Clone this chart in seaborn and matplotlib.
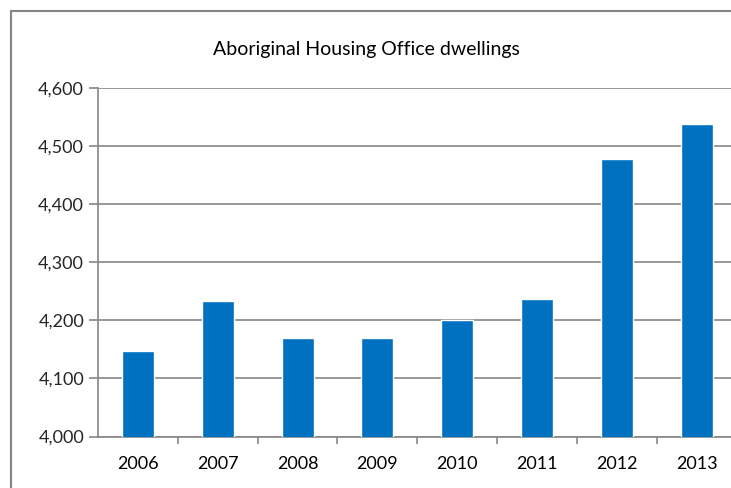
import matplotlib
matplotlib.use("Agg")
import matplotlib.pyplot as plt
from matplotlib.lines import Line2D
from matplotlib.ticker import FuncFormatter, FixedLocator
import seaborn as sns
import pandas as pd

# Aboriginal Housing Office dwellings by year
years = ["2006", "2007", "2008", "2009", "2010", "2011", "2012", "2013"]
dwellings = [4147, 4233, 4169, 4169, 4201, 4237, 4477, 4538]
y_ticks = [4000, 4100, 4200, 4300, 4400, 4500, 4600]

df = pd.DataFrame({"year": years, "dwellings": dwellings})

sns.set_theme(style="white")
plt.rcParams["font.family"] = ["Lato", "DejaVu Sans"]

grey = "#868686"
fig = plt.figure(figsize=(7.31, 4.88), dpi=100)
ax = fig.add_axes([98 / 731, 51.5 / 488, 1 - 98 / 731, 348.5 / 488])

sns.barplot(data=df, x="year", y="dwellings", color="#0070C0", width=0.4,
            saturation=1, ax=ax, zorder=3)

ax.set_ylim(y_ticks[0], y_ticks[-1])
ax.set_xlim(-0.5, 7.43)
ax.yaxis.set_major_locator(FixedLocator(y_ticks))
ax.yaxis.set_major_formatter(FuncFormatter(lambda v, p: f"{int(v):,}"))
ax.grid(axis="y", color=grey, linewidth=1.2, zorder=0)
ax.set_axisbelow(True)

# category boundary ticks on the x axis
ax.xaxis.set_minor_locator(FixedLocator([i + 0.5 for i in range(len(years))]))
ax.tick_params(axis="x", which="major", length=0, pad=14, labelsize=13,
               colors="black")
ax.tick_params(axis="x", which="minor", length=5, width=1.2, color=grey,
               direction="out", bottom=True)
ax.tick_params(axis="y", which="major", length=6.5, width=1.2, color=grey,
               direction="out", left=True, pad=3.5, labelsize=13)

for side in ["top", "right"]:
    ax.spines[side].set_visible(False)
for side in ["left", "bottom"]:
    ax.spines[side].set_color(grey)
    ax.spines[side].set_linewidth(1.2)

ax.set_xlabel("")
ax.set_ylabel("")

fig.text(366.5 / 731, 1 - 50 / 488, "Aboriginal Housing Office dwellings",
         ha="center", va="center", fontsize=14, color="black")

# chart frame (left and top edges run off the canvas)
fx, fy = 10.5 / 731, 1 - 10.5 / 488
fig.lines.append(Line2D([fx, fx], [-0.05, fy], transform=fig.transFigure,
                        color=grey, linewidth=1.5))
fig.lines.append(Line2D([fx, 1.05], [fy, fy], transform=fig.transFigure,
                        color=grey, linewidth=1.5))

fig.savefig("out.png", dpi=100)
